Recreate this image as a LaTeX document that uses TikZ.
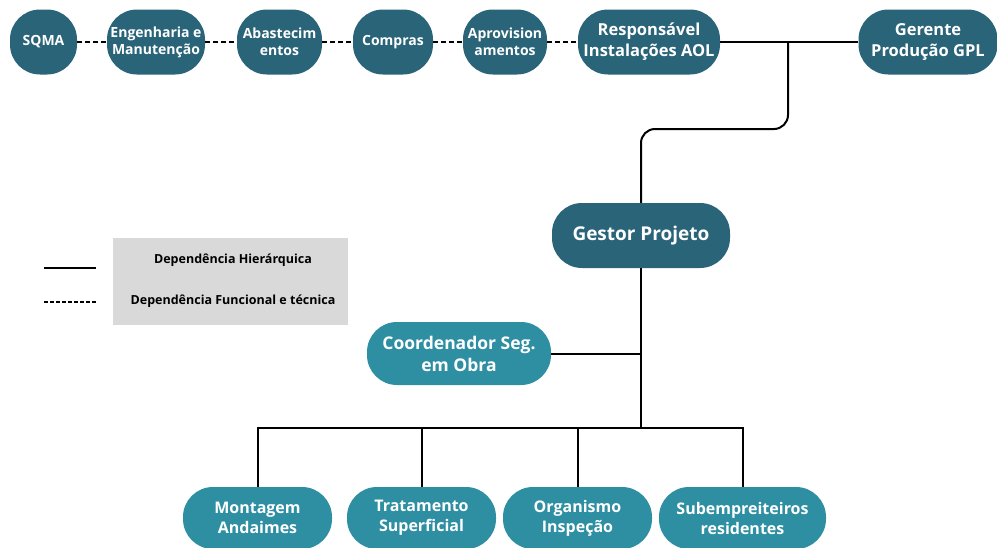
\documentclass[tikz,border=0pt]{standalone}
\usepackage{fontspec}
\setmainfont{Open Sans}
\usetikzlibrary{positioning}

\definecolor{darkteal}{RGB}{42,100,121}
\definecolor{lightteal}{RGB}{46,143,163}
\definecolor{legendgray}{RGB}{217,217,217}

\tikzset{
  pill/.style={rectangle, rounded corners=30pt, fill=darkteal, text=white,
    font=\bfseries\fontsize{14}{17}\selectfont, align=center, inner sep=1pt},
  subpill/.style={pill, fill=lightteal},
  hier/.style={line width=2pt, black},
  func/.style={line width=2.2pt, black, dash pattern=on 5pt off 3pt}
}

\begin{document}
\begin{tikzpicture}[x=1pt, y=-1pt]
    \useasboundingbox (0,0) rectangle (997,547);

    % top row: functional dependencies
    \foreach \cx/\bw/\name/\id in {43.5/67/{SQMA}/sqma, 156/98/{Engenharia e\\Manuten\c{c}\~ao}/eng,
        279.5/85/{Abastecim\\entos}/abast, 393/80/{Compras}/compras, 505/84/{Aprovision\\amentos}/aprov}
        \node[pill, minimum width=\bw pt, minimum height=65pt] (\id) at (\cx, 42) {\name};

    \node[pill, minimum width=142pt, minimum height=65pt, font=\bfseries\fontsize{16.5}{21}\selectfont]
        (resp) at (649, 42) {Respons\'avel\\Instala\c{c}\~oes AOL};
    \node[pill, minimum width=139pt, minimum height=65pt, font=\bfseries\fontsize{16.5}{21}\selectfont]
        (gerente) at (928, 42) {Gerente\\Produ\c{c}\~ao GPL};

    \draw[func] (sqma) -- (eng);
    \draw[func] (eng) -- (abast);
    \draw[func] (abast) -- (compras);
    \draw[func] (compras) -- (aprov);
    \draw[func] (aprov) -- (resp);

    \draw[hier] (resp) -- (gerente);

    % project manager
    \node[pill, minimum width=178pt, minimum height=65pt, font=\bfseries\fontsize{19}{21}\selectfont]
        (gestor) at (641, 235.5) {Gestor Projeto};

    \coordinate (jtop) at (788, 42);
    \coordinate (bend) at (715, 129);
    \draw[hier, rounded corners=14pt] (jtop) |- (bend) -| (gestor.north);

    \node[subpill, minimum width=184pt, minimum height=63pt, font=\bfseries\fontsize{17.5}{22}\selectfont]
        (coord) at (459, 353.5) {Coordenador Seg.\\em Obra};

    \coordinate (bar) at (641, 428);
    \draw[hier] (gestor.south) -- (bar);
    \draw[hier] (coord.east) -- (coord.east -| gestor.south);

    % bottom row
    \foreach \cx/\bw/\name/\id in {257.5/149/{Montagem\\Andaimes}/mont, 421.5/149/{Tratamento\\Superficial}/trat,
        577.5/149/{Organismo\\Inspe\c{c}\~ao}/org, 742.5/167/{Subempreiteiros\\residentes}/sub}
    {
        \node[subpill, minimum width=\bw pt, minimum height=62pt, font=\bfseries\fontsize{16}{20}\selectfont]
            (\id) at (\cx, 518) {\name};
        \draw[hier] (bar) -| (\id.north);
    }

    % legend
    \node[fill=legendgray, minimum width=235pt, minimum height=87pt, inner sep=0pt] (legend) at (230.5, 281.5) {};
    \node[font=\bfseries\fontsize{12.5}{14}\selectfont] (lhier) at (233, 260) {Depend\^encia Hier\'arquica};
    \node[font=\bfseries\fontsize{12.5}{14}\selectfont] (lfunc) at (233, 301) {Depend\^encia Funcional e t\'ecnica};
    \coordinate (hs) at (44, 268);
    \coordinate (fs) at (44, 302);
    \draw[line width=1.8pt] (hs) -- ++(52, 0);
    \draw[line width=1.8pt, dash pattern=on 3.5pt off 2.5pt] (fs) -- ++(52, 0);

\end{tikzpicture}
\end{document}
